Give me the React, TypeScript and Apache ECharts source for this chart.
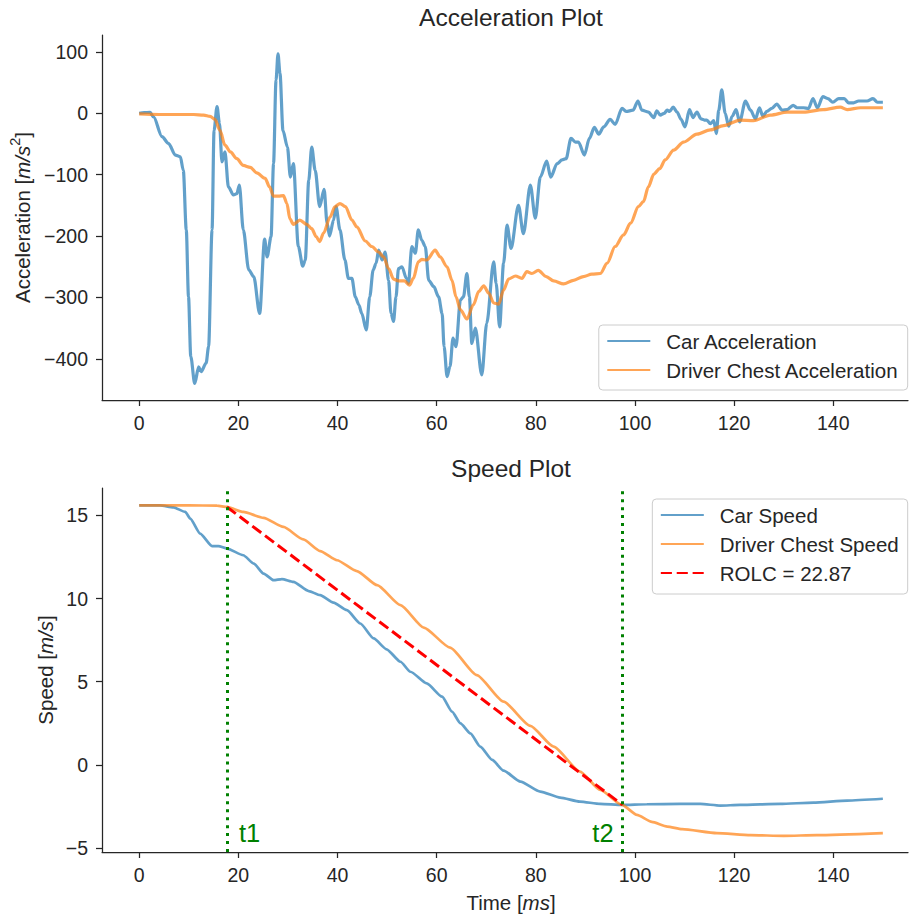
import React, { useEffect, useRef } from 'react';
import * as echarts from 'echarts';

const FONT = '"Liberation Sans", Arial, Helvetica, sans-serif';
const INK = '#262626';
const BLUE = 'rgba(31,119,180,0.7)';
const ORANGE = 'rgba(255,127,14,0.7)';
const RED = '#ff0000';
const GREEN = '#008000';

// tick labels
const timeTicks = [0, 20, 40, 60, 80, 100, 120, 140];
const accelTicks = [-400, -300, -200, -100, 0, 100];
const speedTicks = [-5, 0, 5, 10, 15];

// [time ms, acceleration m/s^2]
const carAcceleration: [number, number][] = [
  [0, 0], [1, 1], [2.2, 1.5], [2.9, -6], [4.6, -38], [5.9, -49], [7.3, -68], [8.3, -71], [8.9, -93],
  [9.5, -190], [9.95, -299], [10.4, -396], [11.2, -440], [12.0, -413], [12.5, -421], [13.5, -407],
  [14.0, -380], [14.7, -190], [15.1, -28], [15.7, 11], [16.2, -17], [16.7, -79], [17.3, -63],
  [18.0, -120], [19.0, -133], [19.7, -131], [20.2, -117], [21.0, -190], [22.1, -255], [23.1, -266],
  [24.3, -326], [25.3, -205], [25.8, -234], [26.6, -201], [27.1, -82], [27.6, 54], [28.0, 97],
  [28.4, 65], [29.0, -28], [29.9, -55], [30.5, -104], [31.1, -82], [32.1, -217], [33.0, -249],
  [33.5, -239], [34.2, -109], [34.8, -55], [35.5, -93], [36.4, -152], [37.3, -124], [37.9, -179],
  [38.4, -200], [39.2, -174], [39.7, -152], [40.5, -190], [41.5, -239], [42.2, -269], [42.9, -269],
  [43.6, -299], [44.3, -312], [44.9, -326], [45.8, -353], [46.5, -299], [47.2, -255], [47.8, -244],
  [48.3, -223], [49.0, -239], [49.6, -226], [50.3, -272], [50.8, -326], [51.3, -339], [51.8, -299],
  [52.3, -253], [53.0, -250], [53.9, -269], [54.3, -277], [55.0, -217], [55.7, -228], [56.3, -190],
  [57.0, -207], [57.7, -217], [58.4, -272], [59.4, -282], [60.4, -299], [61.1, -326], [61.5, -380],
  [62.1, -429], [62.7, -412], [63.3, -366], [63.9, -380], [64.8, -304], [65.4, -299], [66.1, -261],
  [66.6, -299], [67.1, -375], [67.8, -350], [69.1, -426], [70.1, -342], [71.5, -242], [72.0, -277],
  [72.7, -348], [73.5, -244], [74.2, -182], [75.0, -220], [76.5, -150], [77.5, -196], [78.9, -117],
  [79.9, -171], [80.9, -104], [82.2, -78], [83.0, -104], [84.3, -82], [85.3, -76], [86.1, -74],
  [87.1, -41], [88.0, -47], [88.6, -47], [89.8, -68], [90.8, -41], [91.8, -23], [92.7, -34],
  [93.7, -22], [95.0, -10], [96.0, -18], [97.4, 8], [98.2, 3], [99.6, 5], [100.6, 20], [101.4, 5],
  [102.7, 2], [103.8, -7], [104.4, 4], [105.1, -3], [105.9, 0], [106.5, 5], [107.0, 3], [107.7, 10],
  [108.5, 2], [109.3, -10], [110.1, -22], [111.0, 6], [111.7, -7], [112.5, 2], [113.3, -9],
  [114.0, -11], [114.5, -11], [115.2, -17], [115.9, -12], [116.4, -33], [116.9, 5], [117.5, 38],
  [118.2, 0], [118.9, -21], [119.6, -5], [120.4, 6], [121.1, -14], [122.3, 20], [123.3, 5],
  [124.3, -9], [125.1, 9], [125.8, -5], [126.6, 3], [127.6, 8], [128.6, 15], [129.7, 5], [130.7, 6],
  [131.9, 13], [132.7, 9], [134.0, 9], [135.0, 8], [135.9, 24], [136.8, 9], [137.9, 27], [138.9, 24],
  [139.9, 18], [141.1, 24], [142.2, 24], [143.1, 17], [144.1, 17], [145.1, 20], [146.8, 20],
  [148.0, 24], [148.9, 18], [150.0, 18],
];

const chestAcceleration: [number, number][] = [
  [0, -1], [4, -2], [8, -2], [11, -2], [13, -3], [14.3, -5], [15.3, -10], [16.3, -28], [17.3, -52],
  [18.4, -63], [19.7, -74], [21.0, -85], [22.4, -88], [23.7, -97], [25.4, -106], [26.3, -120],
  [27.1, -135], [28.1, -135], [29.1, -134], [29.8, -147], [30.4, -172], [31.1, -181], [32.4, -174],
  [33.8, -181], [34.8, -188], [35.7, -201], [36.4, -209], [37.2, -195], [38.5, -169], [39.5, -152],
  [40.5, -147], [41.6, -152], [42.9, -174], [43.9, -185], [45.6, -208], [46.9, -217], [48.3, -226],
  [49.3, -234], [50.3, -253], [51.3, -270], [52.3, -273], [53.5, -273], [54.5, -280], [55.3, -269],
  [56.3, -242], [57.0, -238], [58.0, -239], [59.7, -223], [60.7, -234], [62.1, -250], [63.1, -272],
  [63.9, -299], [64.8, -320], [66.1, -335], [67.4, -312], [68.5, -290], [69.5, -281], [70.5, -293],
  [71.5, -309], [72.5, -311], [73.5, -288], [74.5, -270], [75.9, -265], [77.2, -269], [78.2, -258],
  [79.2, -261], [80.5, -256], [82.1, -266], [83.6, -273], [85.6, -278], [87.6, -272], [89.6, -266],
  [91.3, -262], [93.0, -261], [94.4, -244], [96.0, -217], [97.7, -198], [99.1, -179], [100.7, -152],
  [101.7, -144], [102.7, -120], [103.8, -99], [105.0, -90], [106.1, -76], [107.8, -60], [109.8, -47],
  [112.5, -34], [115.2, -27], [117.9, -20], [121.2, -11], [123.9, -12], [127.3, -3], [130.7, 2],
  [134.0, 2], [138.0, 6], [141.4, 10], [142.8, 6], [145.5, 9], [150, 9],
];

// [time ms, speed m/s]
const carSpeed: [number, number][] = [
  [0, 15.6], [4.2, 15.6], [6.9, 15.48], [9.3, 15.2], [10.3, 14.8], [12.3, 13.9], [14.7, 13.15],
  [16.0, 13.15], [17.7, 13.0], [21.0, 12.6], [23.1, 12.1], [25.1, 11.5], [27.1, 11.1], [28.8, 11.17],
  [31.1, 11.0], [34.2, 10.45], [36.5, 10.2], [39.2, 9.75], [41.9, 9.3], [44.6, 8.5], [47.3, 7.6],
  [49.9, 6.95], [52.7, 6.2], [54.7, 5.6], [58.0, 4.9], [61.1, 4.1], [63.1, 3.2],
  [64.8, 2.5], [66.8, 1.9], [68.8, 1.1], [71.2, 0.3], [73.5, -0.34], [76.9, -1.0], [80.9, -1.6],
  [84.9, -1.96], [88.9, -2.2], [93.0, -2.34], [97.4, -2.4], [102.4, -2.36], [109.1, -2.34],
  [113.2, -2.34], [117.2, -2.44], [121.2, -2.4], [129.3, -2.34], [136.0, -2.26], [142.8, -2.14],
  [150, -2.03],
];

const chestSpeed: [number, number][] = [
  [0, 15.6], [10, 15.6], [15.7, 15.58], [17.7, 15.5], [21.0, 15.2], [25.1, 14.85], [29.1, 14.3],
  [33.1, 13.55], [36.5, 12.85], [39.9, 12.3], [43.9, 11.65], [48.0, 10.8], [52.7, 9.6], [57.4, 8.25],
  [62.7, 7.05], [68.1, 5.4], [73.5, 3.8], [78.9, 2.35], [83.6, 1.1], [88.9, -0.4], [93.0, -1.5],
  [97.4, -2.4], [100.4, -3.0], [103.4, -3.42], [106.5, -3.7], [109.5, -3.86], [116.5, -4.1],
  [123.3, -4.22], [130.0, -4.26], [136.7, -4.22], [150, -4.1],
];

const T1 = 17.7;
const T2 = 97.5;
const V1 = 15.5;
const V2 = -2.4;
const ROLC = 22.87;
const rolcLine: [number, number][] = [[T1, V1], [T2, V2]];
const T_LABEL_SPEED = -4.08;

const fmt = (v: number) => (v < 0 ? '\u2212' + Math.abs(v) : String(v));

function xAxisCfg(gridIndex: number) {
  return {
    type: 'value', gridIndex, min: -7.5, max: 155.07,
    axisLine: { show: true, onZero: false, lineStyle: { color: INK, width: 1.25 } },
    axisTick: { show: true, length: 6, customValues: timeTicks, lineStyle: { color: INK, width: 1.25 } },
    axisLabel: { customValues: timeTicks, formatter: fmt, color: INK, fontSize: 19.5, fontFamily: FONT, margin: 13 },
    splitLine: { show: false },
  };
}

function yAxisCfg(gridIndex: number, min: number, max: number, ticks: number[]) {
  return {
    type: 'value', gridIndex, min, max,
    axisLine: { show: true, onZero: false, lineStyle: { color: INK, width: 1.25 } },
    axisTick: { show: true, length: 6, customValues: ticks, lineStyle: { color: INK, width: 1.25 } },
    axisLabel: { customValues: ticks, formatter: fmt, color: INK, fontSize: 19.5, fontFamily: FONT, margin: 14 },
    splitLine: { show: false },
  };
}

const legendText = { color: INK, fontSize: 20.5, fontFamily: FONT, lineHeight: 22, padding: [0, 0, 0, 11] };
const legendCommon = {
  orient: 'vertical', right: 1.3, itemWidth: 43, itemHeight: 14, itemGap: 7,
  backgroundColor: 'rgba(255,255,255,0.8)', borderColor: '#cccccc', borderWidth: 1, borderRadius: 4,
  padding: [5, 9, 9, 7.5], textStyle: legendText, itemStyle: { opacity: 0 },
};

const n = { fontSize: 20.5, fontFamily: FONT, fill: INK, lineHeight: 30 };
const it = { fontSize: 20.5, fontFamily: FONT, fontStyle: 'italic', fill: INK, lineHeight: 30 };
const sup = { fontSize: 14.5, fontFamily: FONT, fill: INK, verticalAlign: 'top', lineHeight: 16 };

const option: any = {
  animation: false,
  backgroundColor: '#ffffff',
  textStyle: { fontFamily: FONT },
  grid: [
    { left: 102, top: 35, width: 806, height: 365 },
    { left: 102, top: 488, width: 806, height: 364 },
  ],
  xAxis: [xAxisCfg(0), xAxisCfg(1)],
  yAxis: [yAxisCfg(0, -467, 127.5, accelTicks), yAxisCfg(1, -5.23, 16.64, speedTicks)],
  legend: [
    { ...legendCommon, top: 325, data: ['Car Acceleration', 'Driver Chest Acceleration'] },
    { ...legendCommon, top: 499, padding: [5, 9, 10, 7.5], data: ['Car Speed', 'Driver Chest Speed', `ROLC = ${ROLC}`] },
  ],
  series: [
    {
      type: 'line', name: 'Car Acceleration', xAxisIndex: 0, yAxisIndex: 0, data: carAcceleration,
      symbol: 'none', smooth: 0.3, smoothMonotone: 'x', lineStyle: { color: BLUE, width: 3.2 }, itemStyle: { color: BLUE },
    },
    {
      type: 'line', name: 'Driver Chest Acceleration', xAxisIndex: 0, yAxisIndex: 0, data: chestAcceleration,
      symbol: 'none', smooth: 0.3, smoothMonotone: 'x', lineStyle: { color: ORANGE, width: 3.2 }, itemStyle: { color: ORANGE },
    },
    {
      type: 'line', name: 'Car Speed', xAxisIndex: 1, yAxisIndex: 1, data: carSpeed,
      symbol: 'none', smooth: 0.2, smoothMonotone: 'x', lineStyle: { color: BLUE, width: 2.7 }, itemStyle: { color: BLUE },
    },
    {
      type: 'line', name: 'Driver Chest Speed', xAxisIndex: 1, yAxisIndex: 1, data: chestSpeed,
      symbol: 'none', smooth: 0.2, smoothMonotone: 'x', lineStyle: { color: ORANGE, width: 2.7 }, itemStyle: { color: ORANGE },
    },
    {
      type: 'line', name: `ROLC = ${ROLC}`, xAxisIndex: 1, yAxisIndex: 1, data: rolcLine,
      symbol: 'none', lineStyle: { color: RED, width: 3, type: [11.1, 4.8] }, itemStyle: { color: RED },
      markLine: {
        silent: true, symbol: ['none', 'none'], label: { show: false },
        lineStyle: { color: GREEN, width: 3, type: [3, 4.95] },
        data: [{ xAxis: T1 }, { xAxis: T2 }],
      },
      markPoint: {
        silent: true, symbol: 'circle', symbolSize: 0,
        label: { show: true, color: GREEN, fontSize: 25.5, fontFamily: FONT },
        data: [
          { name: 't1', coord: [T1, T_LABEL_SPEED], label: { position: 'right', distance: 12, formatter: 't1' } },
          { name: 't2', coord: [T2, T_LABEL_SPEED], label: { position: 'left', distance: 9, formatter: 't2' } },
        ],
      },
    },
  ],
  graphic: [
    {
      type: 'text', x: 511, y: 17,
      style: { text: 'Acceleration Plot', fontSize: 24.5, fontFamily: FONT, fill: INK, align: 'center', verticalAlign: 'middle' },
    },
    {
      type: 'text', x: 511, y: 468,
      style: { text: 'Speed Plot', fontSize: 24.5, fontFamily: FONT, fill: INK, align: 'center', verticalAlign: 'middle' },
    },
    {
      type: 'text', x: 22.5, y: 217.5, rotation: Math.PI / 2,
      style: {
        text: '{n|Acceleration [}{i|m/s}{s|2}{n|]}', rich: { n, i: it, s: sup },
        align: 'center', verticalAlign: 'middle',
      },
    },
    {
      type: 'text', x: 45, y: 670, rotation: Math.PI / 2,
      style: {
        text: '{n|Speed [}{i|m/s}{n|]}', rich: { n, i: it },
        align: 'center', verticalAlign: 'middle',
      },
    },
    {
      type: 'text', x: 511, y: 902,
      style: {
        text: '{n|Time [}{i|ms}{n|]}', rich: { n, i: it },
        align: 'center', verticalAlign: 'middle',
      },
    },
  ],
};

export default function App() {
  const ref = useRef<HTMLDivElement>(null);
  useEffect(() => {
    if (!ref.current) return;
    const chart = echarts.init(ref.current, null, { renderer: 'svg' });
    chart.setOption(option);
    return () => chart.dispose();
  }, []);
  return (
    <div
      ref={ref}
      style={{ position: 'fixed', left: 0, top: 0, width: 909, height: 918, background: '#ffffff' }}
    />
  );
}
